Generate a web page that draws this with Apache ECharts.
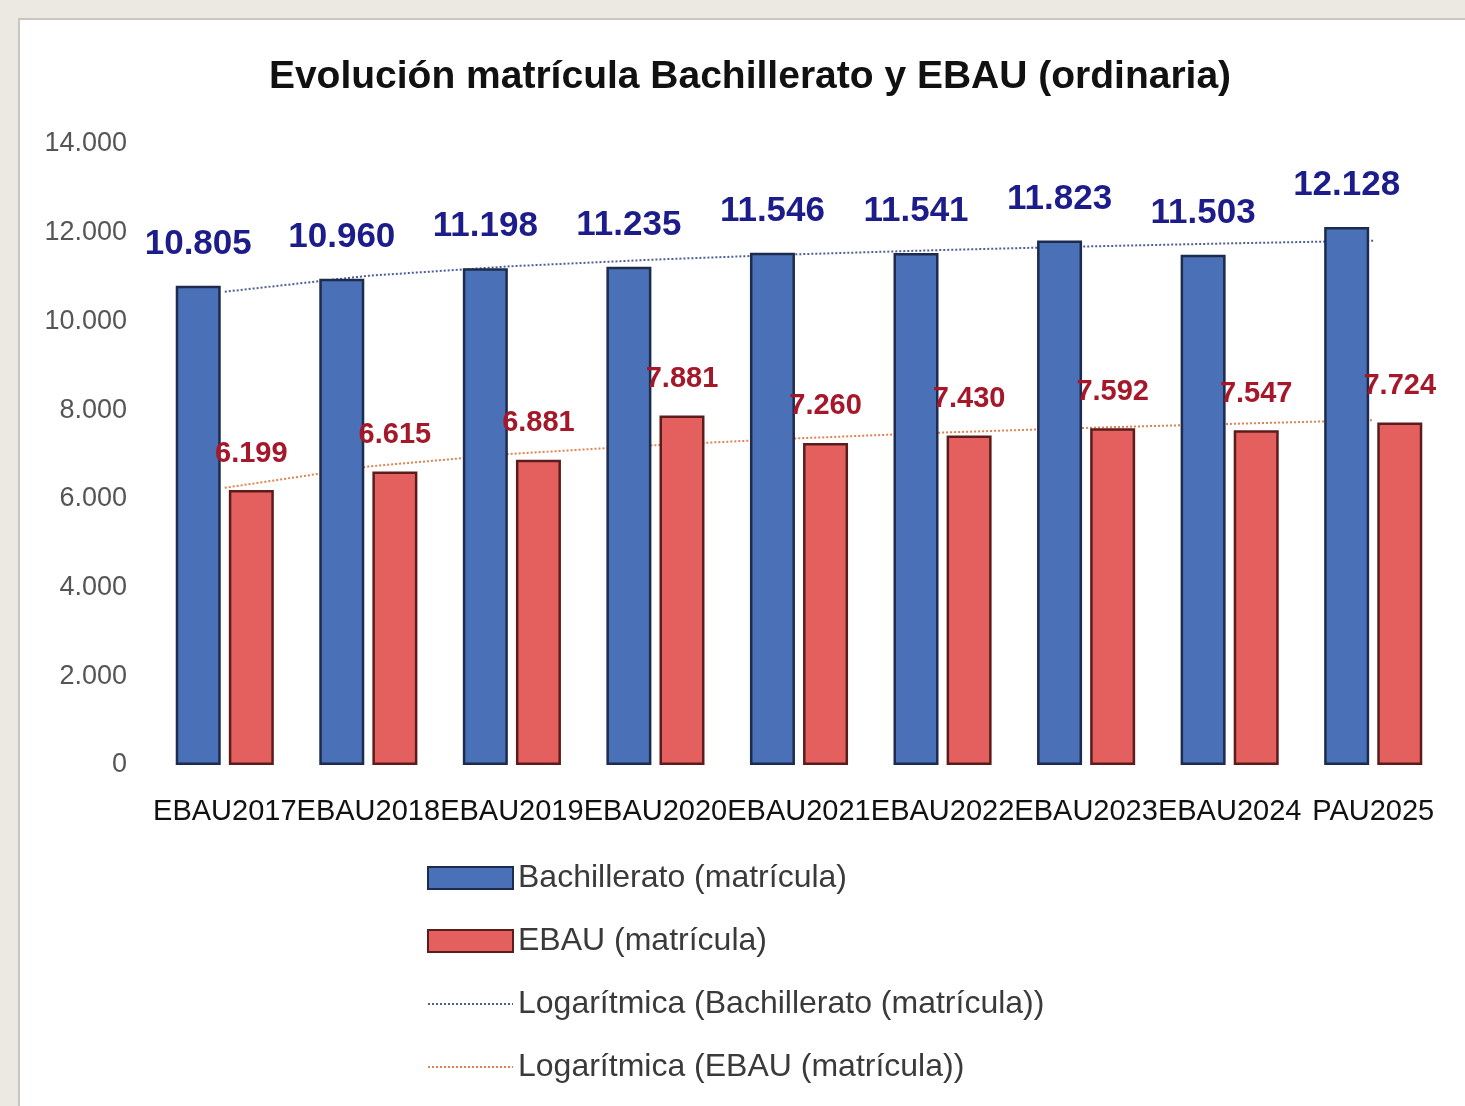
<!DOCTYPE html>
<html>
<head>
<meta charset="utf-8">
<script src="https://cdn.jsdelivr.net/npm/echarts@6/dist/echarts.min.js"></script>
<style>
  body { margin: 0; background: #ece8e2; overflow: hidden; }
  #main {
    position: absolute; left: 18px; top: 18px;
    width: 1460px; height: 1100px;
    background: #fff;
    border-left: 2px solid #c9c5c0; border-top: 2px solid #c9c5c0;
  }
</style>
</head>
<body>
<div id="main"></div>
<script>
// datos del gráfico
var categorias = ['EBAU2017', 'EBAU2018', 'EBAU2019', 'EBAU2020', 'EBAU2021', 'EBAU2022', 'EBAU2023', 'EBAU2024', 'PAU2025'];
var bachillerato = [10805, 10960, 11198, 11235, 11546, 11541, 11823, 11503, 12128];
var ebau = [6199, 6615, 6881, 7881, 7260, 7430, 7592, 7547, 7724];
// líneas de tendencia logarítmica
var tendBach = [10670, 11030, 11245, 11395, 11515, 11610, 11690, 11760, 11820];
var tendEbau = [6250, 6730, 7015, 7210, 7365, 7495, 7600, 7690, 7775];
var ticksY = [0, 2000, 4000, 6000, 8000, 10000, 12000, 14000];

// formato español: 10.805
function miles(v) {
    return String(v).replace(/\B(?=(\d{3})+(?!\d))/g, '.');
}

var font = '"Liberation Sans", Arial, sans-serif';

var myChart = echarts.init(document.getElementById('main'));
myChart.setOption({
    animation: false,
    textStyle: { fontFamily: font },
    title: {
        text: 'Evolución matrícula Bachillerato y EBAU (ordinaria)',
        left: 'center',
        top: 33,
        textStyle: { fontSize: 39, fontWeight: 'bold', color: '#111', fontFamily: font }
    },
    grid: { left: 133, right: 35, top: 124, bottom: 355 },
    legend: {
        orient: 'vertical',
        left: 402,
        top: 837,
        itemWidth: 85,
        itemHeight: 22,
        itemGap: 31,
        textStyle: { fontSize: 32, color: '#3a3a3a', fontFamily: font },
        data: [
            { name: 'Bachillerato (matrícula)', icon: 'rect' },
            { name: 'EBAU (matrícula)', icon: 'rect' },
            // sin el círculo en el icono de las líneas
            { name: 'Logarítmica (Bachillerato (matrícula))', itemStyle: { color: 'transparent', borderWidth: 0 } },
            { name: 'Logarítmica (EBAU (matrícula))', itemStyle: { color: 'transparent', borderWidth: 0 } }
        ]
    },
    xAxis: {
        type: 'category',
        data: categorias,
        axisLine: { show: false },
        axisTick: { show: false },
        axisLabel: { fontSize: 29, color: '#111', margin: 32, interval: 0 }
    },
    yAxis: {
        type: 'value',
        min: ticksY[0],
        max: ticksY[ticksY.length - 1],
        interval: 2000,
        splitLine: { show: false },
        axisLine: { show: false },
        axisLabel: {
            fontSize: 27, color: '#555', margin: 26,
            formatter: function (v) { return miles(v); }
        }
    },
    series: [
        {
            name: 'Bachillerato (matrícula)',
            type: 'bar',
            z: 3,
            barWidth: 45,
            barGap: '18%',
            data: bachillerato,
            itemStyle: { color: '#4a70b8', borderColor: '#1d2b4c', borderWidth: 2.5 },
            label: {
                show: true,
                position: 'top',
                distance: 24,
                fontSize: 35,
                fontWeight: 'bold',
                color: '#1c1c8a',
                formatter: function (p) { return miles(p.value); }
            }
        },
        {
            name: 'EBAU (matrícula)',
            type: 'bar',
            z: 3,
            barWidth: 45,
            data: ebau,
            itemStyle: { color: '#e4605f', borderColor: '#5c1c1c', borderWidth: 2.5 },
            label: {
                show: true,
                position: 'top',
                distance: 22,
                fontSize: 29,
                fontWeight: 'bold',
                color: '#a5182a',
                formatter: function (p) { return miles(p.value); }
            }
        },
        {
            name: 'Logarítmica (Bachillerato (matrícula))',
            type: 'line',
            z: 1,
            symbol: 'none',
            data: tendBach,
            lineStyle: { color: '#4f5f95', width: 2, type: 'dotted' },
            itemStyle: { color: '#4f5f95' }
        },
        {
            name: 'Logarítmica (EBAU (matrícula))',
            type: 'line',
            z: 1,
            symbol: 'none',
            data: tendEbau,
            lineStyle: { color: '#e2824e', width: 2, type: 'dotted' },
            itemStyle: { color: '#e2824e' }
        }
    ]
});
</script>
</body>
</html>
